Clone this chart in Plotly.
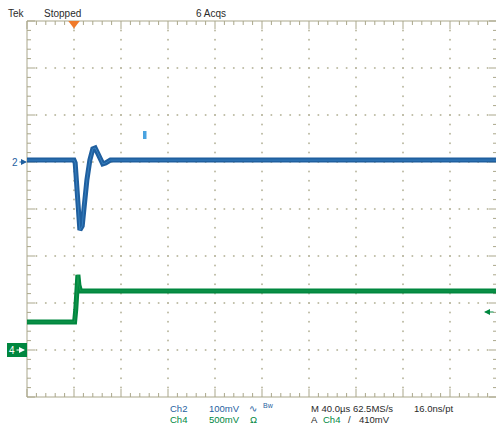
import plotly.graph_objects as go

# ---------------- data ----------------
ch2_t_us = [-40, 0, 1, 2.5, 4, 5, 7, 8.5, 11, 13.5, 16, 18, 19.5, 22, 24.5, 27, 31, 360]
ch2_mv = [4, 4, -2, -60, -123, -145, -136, -92, -38, 4, 28, 30, 23, 8, -4, -2, 4, 4]

ch4_t_us = [-40, 0.5, 1.5, 2.5, 3.3, 4.2, 5.5, 360]
ch4_mv = [298, 298, 430, 720, 800, 690, 628, 628]

CH2_SCALE_MV, CH2_OFFSET_DIV = 100, 1
CH4_SCALE_MV, CH4_OFFSET_DIV = 500, -3
TIME_PER_DIV_US, TRIGGER_DIV = 40, 1
TRIG_LEVEL_MV = 410

top_labels = ["Tek", "Stopped", "6 Acqs"]
ch_labels = ["Ch2", "Ch4"]
volt_labels = ["100mV", "500mV"]
time_labels = ["M 40.0\u00b5s 62.5MS/s", "16.0ns/pt"]
trig_labels = ["A", "Ch4", "/", "410mV"]

# ---------------- layout geometry ----------------
W, H = 496, 428
X0, Y0, DIV = 27, 21, 47          # graticule top-left pixel, pixels per division
NX, NY = 10, 8

BLUE = "#1f5f9f"
BLUE_LT = "#3f8ccc"
GREEN = "#00873f"
GREEN_LT = "#23a356"
GRAT = "#aaa78b"
DOT = "#bdbba4"
TXT = "#2a2a2a"
FONT = "Liberation Sans, Arial, sans-serif"


def d2t(d):
    return (d - TRIGGER_DIV) * TIME_PER_DIV_US


def v2mv(v):  # vertical division -> Ch2 mV
    return (v - CH2_OFFSET_DIV) * CH2_SCALE_MV


def v2mv4(v):
    return (v - CH4_OFFSET_DIV) * CH4_SCALE_MV


def px(xp):
    return xp / W


def py(yp):
    return 1 - yp / H


d_left, d_right = -X0 / DIV, (W - X0) / DIV
v_top, v_bot = 4 + Y0 / DIV, 4 - (H - Y0) / DIV

fig = go.Figure()

# ---- graticule frame + ticks ----
gx, gy = [], []


def seg(d1, v1, d2, v2):
    gx.extend([d2t(d1), d2t(d2), None])
    gy.extend([v2mv(v1), v2mv(v2), None])


seg(0, 4, NX, 4)
seg(0, -4, NX, -4)
seg(0, -4, 0, 4)
seg(NX, -4, NX, 4)
mn, mj = 4 / DIV, 8 / DIV
for i in range(NX * 5 + 1):
    d = i / 5
    L = mj if i % 5 == 0 else mn
    seg(d, 4, d, 4 - L)
    seg(d, -4, d, -4 + L)
for i in range(NY * 5 + 1):
    v = -4 + i / 5
    L = mj if i % 5 == 0 else mn
    seg(0, v, L, v)
    seg(NX, v, NX - L, v)

fig.add_trace(go.Scatter(x=gx, y=gy, mode="lines", line=dict(color=GRAT, width=1),
                         hoverinfo="skip", showlegend=False))

dx, dy = [], []
for k in range(1, NY):
    v = -4 + k
    for i in range(1, NX * 5):
        dx.append(d2t(i / 5)); dy.append(v2mv(v))
for k in range(1, NX):
    for i in range(1, NY * 5):
        dx.append(d2t(k)); dy.append(v2mv(-4 + i / 5))
fig.add_trace(go.Scatter(x=dx, y=dy, mode="markers",
                         marker=dict(color=DOT, size=2, line=dict(width=0)),
                         hoverinfo="skip", showlegend=False))

# ---- waveforms ----
fig.add_trace(go.Scatter(x=ch4_t_us, y=ch4_mv, yaxis="y2", mode="lines",
                         line=dict(color=GREEN, width=5), showlegend=False))
fig.add_trace(go.Scatter(x=ch4_t_us, y=ch4_mv, yaxis="y2", mode="lines",
                         line=dict(color=GREEN_LT, width=1), opacity=0.6, showlegend=False))
fig.add_trace(go.Scatter(x=ch2_t_us, y=ch2_mv, mode="lines",
                         line=dict(color=BLUE, width=5), showlegend=False))
fig.add_trace(go.Scatter(x=ch2_t_us, y=ch2_mv, mode="lines",
                         line=dict(color=BLUE_LT, width=1), opacity=0.7, showlegend=False))

# trigger position marker (top)
fig.add_trace(go.Scatter(x=[d2t(TRIGGER_DIV)], y=[v2mv(4 - 2.5 / DIV)], mode="markers",
                         marker=dict(symbol="triangle-down", size=10, color="#f07a2a",
                                     line=dict(width=0)),
                         hoverinfo="skip", showlegend=False))

# small cursor block, Ch4 reference box
shapes = [
    dict(type="rect", xref="paper", yref="paper", x0=px(143), x1=px(146.5), y0=py(139), y1=py(131),
         fillcolor="#4aa3e0", line=dict(width=0)),
    dict(type="rect", xref="paper", yref="paper", x0=px(7), x1=px(27), y0=py(357), y1=py(343),
         fillcolor=GREEN, line=dict(width=0)),
]

ann = []


def text(x, y, s, color=TXT, size=9.5, anchor="left"):
    ann.append(dict(x=px(x), y=py(y), xref="paper", yref="paper", text=s, showarrow=False,
                    xanchor=anchor, yanchor="middle", font=dict(family=FONT, size=size, color=color)))


def arrow(xh, yh, dxp, s, color, tcolor, size=10):
    ann.append(dict(x=px(xh), y=py(yh), xref="paper", yref="paper", text=s, showarrow=True,
                    ax=dxp, ay=0, arrowhead=2, arrowsize=1, arrowwidth=1.2, arrowcolor=color,
                    standoff=0, startstandoff=0,
                    font=dict(family=FONT, size=size, color=tcolor)))


text(6, 13, top_labels[0], size=10)
text(42, 13, top_labels[1], size=10)
text(194, 13, top_labels[2], size=10)

arrow(27, 162, -12, "2", BLUE, BLUE)
arrow(25, 350, -13, "4", "white", "white")
arrow(484, 312, 11, "", GREEN, GREEN)

text(168, 408, ch_labels[0], color=BLUE)
text(207, 408, volt_labels[0], color=BLUE)
text(247, 408, "\u223f", color=BLUE)
text(261, 405, "Bw", color=BLUE, size=7)
text(309, 408, time_labels[0])
text(412, 408, time_labels[1])

text(168, 419, ch_labels[1], color=GREEN)
text(207, 419, volt_labels[1], color=GREEN)
text(248, 419, "\u03a9", color=GREEN)
text(309, 419, trig_labels[0])
text(321, 419, trig_labels[1], color=GREEN)
text(346, 419, trig_labels[2])
text(357, 419, trig_labels[3])

fig.update_layout(
    width=W, height=H, autosize=False,
    margin=dict(l=0, r=0, t=0, b=0, pad=0),
    paper_bgcolor="white", plot_bgcolor="white",
    xaxis=dict(range=[d2t(d_left), d2t(d_right)], visible=False, fixedrange=True),
    yaxis=dict(range=[v2mv(v_bot), v2mv(v_top)], visible=False, fixedrange=True),
    yaxis2=dict(range=[v2mv4(v_bot), v2mv4(v_top)], visible=False, overlaying="y",
                fixedrange=True),
    shapes=shapes, annotations=ann, showlegend=False,
)

fig.write_html("out.html", config={"displayModeBar": False},
               post_script="document.body.style.margin='0';document.body.style.overflow='hidden';")
